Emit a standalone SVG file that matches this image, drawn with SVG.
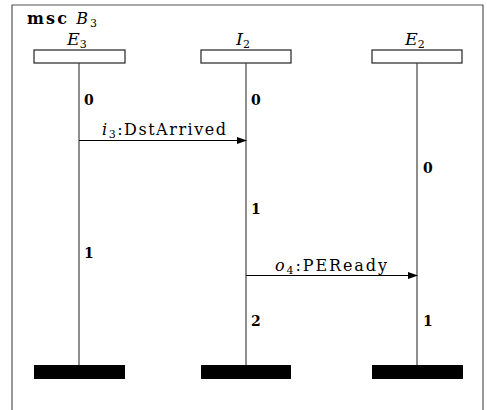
<svg xmlns="http://www.w3.org/2000/svg" width="487" height="410" viewBox="0 0 487 410">
  <style>
    .frame { fill: none; stroke: #555; stroke-width: 1.2; }
    .head { fill: #fff; stroke: #222; stroke-width: 1.2; }
    .foot { fill: #000; }
    .life { stroke: #444; stroke-width: 1.2; }
    .msg { stroke: #000; stroke-width: 1; fill: none; }
    text { font-family: "DejaVu Serif", "Liberation Serif", serif; fill: #000; }
    .lbl { font-size: 16px; }
    .inst { font-size: 17.5px; }
    .it { font-style: italic; }
    .sub { font-size: 11px; }
    .num { font-size: 14px; font-weight: bold; }
  </style>
  <defs>
    <marker id="arrow" markerWidth="10" markerHeight="8" refX="9" refY="4" orient="auto" markerUnits="userSpaceOnUse">
      <path d="M0,0.5 L10,4 L0,7.5 Z" fill="#000"/>
    </marker>
  </defs>

  <!-- chart frame -->
  <path class="frame" d="M12,410 V5 H483 V410"/>
  <text class="lbl" x="27" y="24" textLength="70" lengthAdjust="spacing"><tspan font-weight="bold">msc</tspan> <tspan class="it">B</tspan><tspan class="sub" dy="3">3</tspan></text>

  <g id="E3">
    <text class="inst" x="67" y="45"><tspan class="it">E</tspan><tspan class="sub" dy="3">3</tspan></text>
    <rect class="head" x="34" y="50" width="91" height="13"/>
    <line class="life" x1="79" y1="63" x2="79" y2="365"/>
    <rect class="foot" x="34" y="365" width="91" height="14"/>
    <text class="num" x="84" y="105">0</text>
    <text class="num" x="84" y="258">1</text>
  </g>

  <g id="I2">
    <text class="inst" x="236" y="45"><tspan class="it">I</tspan><tspan class="sub" dy="3">2</tspan></text>
    <rect class="head" x="201" y="50" width="90" height="13"/>
    <line class="life" x1="246" y1="63" x2="246" y2="365"/>
    <rect class="foot" x="201" y="365" width="90" height="14"/>
    <text class="num" x="251" y="105">0</text>
    <text class="num" x="251" y="214">1</text>
    <text class="num" x="251" y="326">2</text>
  </g>

  <g id="E2">
    <text class="inst" x="405" y="45"><tspan class="it">E</tspan><tspan class="sub" dy="3">2</tspan></text>
    <rect class="head" x="372" y="50" width="90" height="13"/>
    <line class="life" x1="417" y1="63" x2="417" y2="365"/>
    <rect class="foot" x="372" y="365" width="91" height="14"/>
    <text class="num" x="423" y="173">0</text>
    <text class="num" x="423" y="326">1</text>
  </g>

  <g id="connectors">
    <line class="msg" x1="79" y1="140.5" x2="246" y2="140.5" marker-end="url(#arrow)"/>
    <text class="lbl" x="102" y="135" textLength="124" lengthAdjust="spacing"><tspan class="it">i</tspan><tspan class="sub" dy="3">3</tspan><tspan dy="-3">:DstArrived</tspan></text>
    <line class="msg" x1="246" y1="275.5" x2="417" y2="275.5" marker-end="url(#arrow)"/>
    <text class="lbl" x="275" y="271" textLength="112" lengthAdjust="spacing"><tspan class="it">o</tspan><tspan class="sub" dy="3">4</tspan><tspan dy="-3">:PEReady</tspan></text>
  </g>
</svg>
